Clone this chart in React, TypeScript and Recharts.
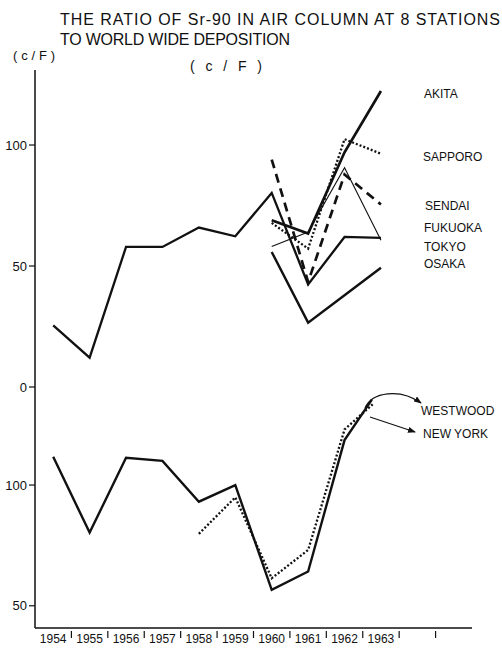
import React from "react";
import { LineChart, Line, XAxis, YAxis } from "recharts";

// upper panel: Japanese stations (c/F)
const years = [1954, 1955, 1956, 1957, 1958, 1959, 1960, 1961, 1962, 1963];
const tokyo = [25.5, 12.1, 57.9, 57.9, 65.9, 62.3, 80.2, 42.4, 62, 61.6];
const lateYears = [1960, 1961, 1962, 1963];
const akita = [68.9, 63.4, 97, 122.3];
const sapporo = [67.8, 57.2, 102.4, 96.4];
const sendai = [94, 43.4, 87.8, 75.4];
const fukuoka = [58.1, 64, 90.6, 60.6];
const osaka = [55.8, 26.6, 37.9, 49.3];

// lower panel: US stations
const nyYears = [1954, 1955, 1956, 1957, 1958, 1959, 1960, 1961, 1962, 1962.75];
const newYork = [111.7, 80.3, 111.3, 110, 93.1, 100, 56.6, 64.2, 118.6, 135.4];
const wwYears = [1958, 1959, 1960, 1961, 1962, 1962.8];
const westwood = [79.8, 94.9, 61.4, 73.1, 123, 133.8];

const yearTicks = [1954, 1955, 1956, 1957, 1958, 1959, 1960, 1961, 1962, 1963, 1964];
const upperTicks = [0, 50, 100];
const lowerTicks = [50, 100];

const FONT = "'Liberation Sans', Arial, sans-serif";
const INK = "#111";
const HALF_YEAR = 18.2; // px, half the width of one year band

const series = (xs: number[], ys: number[]) => xs.map((x, i) => ({ year: x, v: ys[i] }));

const YearTick = (props: any) => {
  const { x, y, payload } = props;
  const v = payload.value;
  return (
    <g>
      <line x1={x + HALF_YEAR} x2={x + HALF_YEAR} y1={y + 3} y2={y + 10} stroke={INK} strokeWidth={1.2} />
      {v <= 1963 && (
        <text x={x} y={y + 15} textAnchor="middle" fontSize={12} fontFamily={FONT} fill={INK}>
          {v}
        </text>
      )}
    </g>
  );
};

const axisStyle = { stroke: INK, strokeWidth: 1.5 };
const yTick = { fontSize: 13, fill: INK, fontFamily: FONT };

const App = () => {
  return (
    <div style={{ position: "absolute", left: 0, top: 0, width: 502, height: 649, background: "#fff" }}>
      <div style={{ position: "absolute", left: 0, top: 0 }}>
        <LineChart width={502} height={400} margin={{ top: 70, right: 30, bottom: 13, left: 0 }}>
          <XAxis
            type="number"
            dataKey="year"
            domain={[1953.5, 1965.5]}
            allowDataOverflow
            height={0}
            tick={false}
            tickLine={false}
            axisLine={axisStyle}
          />
          <YAxis
            type="number"
            domain={[0, 131]}
            ticks={upperTicks}
            allowDataOverflow
            width={35}
            tickSize={6}
            tickMargin={2}
            tick={yTick}
            axisLine={axisStyle}
            tickLine={{ stroke: INK, strokeWidth: 1.2 }}
          />
          <Line data={series(years, tokyo)} dataKey="v" name="Tokyo" stroke={INK} strokeWidth={2.3} dot={false} isAnimationActive={false} />
          <Line data={series(lateYears, akita)} dataKey="v" name="Akita" stroke={INK} strokeWidth={2.7} dot={false} isAnimationActive={false} />
          <Line data={series(lateYears, sapporo)} dataKey="v" name="Sapporo" stroke={INK} strokeWidth={2.3} strokeDasharray="2 2" dot={false} isAnimationActive={false} />
          <Line data={series(lateYears, sendai)} dataKey="v" name="Sendai" stroke={INK} strokeWidth={2.7} strokeDasharray="9 6" dot={false} isAnimationActive={false} />
          <Line data={series(lateYears, fukuoka)} dataKey="v" name="Fukuoka" stroke={INK} strokeWidth={1.1} dot={false} isAnimationActive={false} />
          <Line data={series(lateYears, osaka)} dataKey="v" name="Osaka" stroke={INK} strokeWidth={2.4} dot={false} isAnimationActive={false} />
        </LineChart>
      </div>
      <div style={{ position: "absolute", left: 0, top: 387 }}>
        <LineChart width={502} height={262} margin={{ top: 0, right: 30, bottom: 0, left: 0 }}>
          <XAxis
            type="number"
            dataKey="year"
            domain={[1953.5, 1965.5]}
            allowDataOverflow
            ticks={yearTicks}
            interval={0}
            height={21}
            tickSize={0}
            tickMargin={0}
            tickLine={false}
            tick={<YearTick />}
            axisLine={axisStyle}
          />
          <YAxis
            type="number"
            domain={[40.8, 140.6]}
            ticks={lowerTicks}
            allowDataOverflow
            width={35}
            tickSize={6}
            tickMargin={2}
            tick={yTick}
            axisLine={axisStyle}
            tickLine={{ stroke: INK, strokeWidth: 1.2 }}
          />
          <Line data={series(nyYears, newYork)} dataKey="v" name="New York" stroke={INK} strokeWidth={2.4} dot={false} isAnimationActive={false} />
          <Line data={series(wwYears, westwood)} dataKey="v" name="Westwood" stroke={INK} strokeWidth={2.3} strokeDasharray="2 2" dot={false} isAnimationActive={false} />
        </LineChart>
      </div>
      <svg
        width={502}
        height={649}
        style={{ position: "absolute", left: 0, top: 0, pointerEvents: "none" }}
        fontFamily={FONT}
        fill={INK}
      >
        <defs>
          <marker id="head" markerWidth="8" markerHeight="6" refX="7" refY="3" orient="auto" markerUnits="userSpaceOnUse">
            <path d="M0,0 L8,3 L0,6 Z" fill={INK} />
          </marker>
        </defs>
        <text x={60} y={25} fontSize={16} textLength={440} lengthAdjust="spacing">
          THE RATIO OF Sr-90 IN AIR COLUMN AT 8 STATIONS
        </text>
        <text x={60} y={45} fontSize={16} textLength={230} lengthAdjust="spacing">
          TO WORLD WIDE DEPOSITION
        </text>
        <text x={13} y={60} fontSize={13} textLength={42} lengthAdjust="spacing">(c/F)</text>
        <text x={190} y={71} fontSize={14} textLength={72} lengthAdjust="spacing">( c / F )</text>

        <text x={424} y={98} fontSize={12}>AKITA</text>
        <text x={423} y={161} fontSize={12}>SAPPORO</text>
        <text x={425} y={210} fontSize={12}>SENDAI</text>
        <text x={424} y={232} fontSize={12}>FUKUOKA</text>
        <text x={424} y={251} fontSize={12}>TOKYO</text>
        <text x={424} y={268} fontSize={12}>OSAKA</text>

        <text x={421} y={415} fontSize={12}>WESTWOOD</text>
        <text x={423} y={438} fontSize={12}>NEW YORK</text>
        <path d="M365,408 C372,392 400,388 421,403" fill="none" stroke={INK} strokeWidth={1.2} markerEnd="url(#head)" />
        <line x1={370} y1={417} x2={415} y2={432} stroke={INK} strokeWidth={1.2} markerEnd="url(#head)" />
      </svg>
    </div>
  );
};

export default App;
